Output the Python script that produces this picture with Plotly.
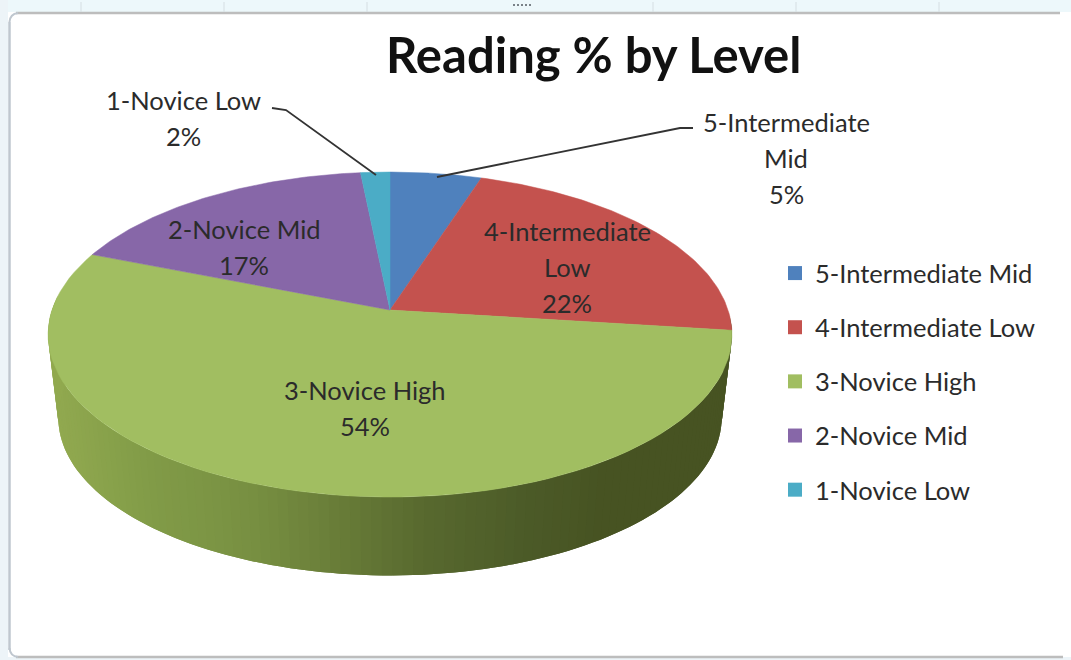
import numpy as np
import plotly.graph_objects as go

categories = ["5-Intermediate Mid", "4-Intermediate Low", "3-Novice High", "2-Novice Mid", "1-Novice Low"]
values = [5, 22, 54, 17.4, 1.6]
colors = ["#4F81BD", "#C4524E", "#A1BE61", "#8767A8", "#4BACC6"]
title_text = "Reading % by Level"
label_lines = {
    "5-Intermediate Mid": ["5-Intermediate", "Mid"],
    "4-Intermediate Low": ["4-Intermediate", "Low"],
    "3-Novice High": ["3-Novice High"],
    "2-Novice Mid": ["2-Novice Mid"],
    "1-Novice Low": ["1-Novice Low"],
}

W, H = 1071, 660
FONT = "Lato"
TXT = "#2b2b2b"
FS = 25.5
# page-pixel placement of each label's first line
label_pos = {
    "5-Intermediate Mid": (786, 122),
    "4-Intermediate Low": (567, 231),
    "3-Novice High": (365, 390),
    "2-Novice Mid": (244, 229),
    "1-Novice Low": (183, 100),
}
LINE_STEP = 36

CX, CY, RA, RB, K = 390, 310, 338, 158.8, 0.151
DEPTH_SCALE, DEPTH_Y = 0.97, 394


def rim(theta, scale=1.0, cy=CY):
    u, v = np.sin(theta), np.cos(theta)
    d = 1 + K * v
    return CX + scale * RA * u / d, cy - scale * RB * v / d


fig = go.Figure()

# extruded side of the pie, shaded by horizontal position
grad_x = [58, 150, 250, 330, 420, 520, 600, 735]
grad_r = [0x92, 0x82, 0x78, 0x6A, 0x58, 0x4C, 0x47, 0x47]
grad_g = [0xAA, 0x9C, 0x90, 0x7E, 0x69, 0x5B, 0x53, 0x53]
grad_b = [0x50, 0x48, 0x42, 0x39, 0x2F, 0x28, 0x22, 0x22]
side = np.radians(np.linspace(92, 275, 120))
for i in range(len(side) - 2):
    t = side[i:i + 3]
    x1, y1 = rim(t)
    x2, y2 = rim(t, DEPTH_SCALE, DEPTH_Y)
    col = "rgb(%d,%d,%d)" % tuple(np.interp(x2[1], grad_x, c) for c in (grad_r, grad_g, grad_b))
    fig.add_trace(go.Scatter(
        x=np.r_[x1, x2[::-1]], y=np.r_[y1, y2[::-1]], mode="none", fill="toself",
        fillcolor=col, hoverinfo="skip", showlegend=False))

# top face of the slices
edges = np.r_[0, np.cumsum(values)] / np.sum(values) * 2 * np.pi
for i, cat in enumerate(categories):
    t = np.linspace(edges[i], edges[i + 1], 80)
    x, y = rim(t)
    fig.add_trace(go.Scatter(
        x=np.r_[CX, x, CX], y=np.r_[CY, y, CY], mode="lines", fill="toself",
        fillcolor=colors[i], line=dict(color=colors[i], width=0.5),
        name=cat, text=f"{cat}: {round(values[i])}%", hoverinfo="text", showlegend=False))

# legend entries
for i, cat in enumerate(categories):
    fig.add_trace(go.Scatter(
        x=[None], y=[None], mode="markers", name=cat, legendgroup=cat,
        marker=dict(symbol="square", size=14, color=colors[i])))

# leader lines
fig.add_trace(go.Scatter(x=[272, 286, 376], y=[108, 110, 175], mode="lines",
                         line=dict(color="#333333", width=1.8), hoverinfo="skip", showlegend=False))
fig.add_trace(go.Scatter(x=[693, 680, 437], y=[128, 128, 177], mode="lines",
                         line=dict(color="#333333", width=1.8), hoverinfo="skip", showlegend=False))

# data labels
annotations = []
for i, cat in enumerate(categories):
    lx, ly = label_pos[cat]
    for j, line in enumerate(label_lines[cat] + [f"{round(values[i])}%"]):
        annotations.append(dict(x=lx, y=ly + j * LINE_STEP, xref="x", yref="y", text=line, showarrow=False,
                                xanchor="center", yanchor="middle", font=dict(family=FONT, size=FS, color=TXT)))
annotations.append(dict(x=593, y=54, xref="x", yref="y", text=f"<b>{title_text}</b>", showarrow=False,
                        xanchor="center", yanchor="middle", font=dict(family=FONT, size=49, color="#111111")))

# screenshot frame
shapes = [
    dict(type="rect", x0=0, x1=W, y0=0, y1=12, fillcolor="#EDF8FB", line_width=0, layer="below"),
    dict(type="rect", x0=0, x1=8, y0=0, y1=H, fillcolor="#EDF4F8", line_width=0, layer="below"),
    dict(type="rect", x0=0, x1=W, y0=657, y1=H, fillcolor="#EDF4F8", line_width=0, layer="below"),
    dict(type="line", x0=16, x1=W - 11, y0=13, y1=13, line=dict(color="#BDBDBD", width=2.5)),
    dict(type="line", x0=9.5, x1=9.5, y0=22, y1=650, line=dict(color="#BFC7CF", width=2.5)),
    dict(type="line", x0=16, x1=W - 8, y0=657, y1=657, line=dict(color="#BDBDBD", width=2.5)),
    dict(type="path", path="M 9.5 22 Q 10 14 18 13", line=dict(color="#BFC7CF", width=2)),
    dict(type="path", path="M 9.5 648 Q 10 656 18 657", line=dict(color="#BFC7CF", width=2)),
]
for tx in (81, 224, 367, 653, 796, 939):
    shapes.append(dict(type="line", x0=tx, x1=tx, y0=2, y1=12, line=dict(color="#D5DEE2", width=1)))
for tx in (513, 517, 521, 525, 529):
    shapes.append(dict(type="line", x0=tx, x1=tx + 2, y0=5, y1=5, line=dict(color="#7A8288", width=2)))

fig.update_layout(
    width=W, height=H, margin=dict(l=0, r=0, t=0, b=0), autosize=False,
    paper_bgcolor="white", plot_bgcolor="white",
    xaxis=dict(range=[0, W], visible=False, fixedrange=True),
    yaxis=dict(range=[H, 0], visible=False, fixedrange=True),
    annotations=annotations, shapes=shapes,
    showlegend=True,
    legend=dict(x=775 / W, y=1 - 250 / H, xanchor="left", yanchor="top", tracegroupgap=18,
                bgcolor="rgba(0,0,0,0)", font=dict(family=FONT, size=FS, color=TXT)),
)
fig.write_html("out.html", config={"displayModeBar": False},
               post_script="document.body.style.margin='0';document.body.style.overflow='hidden';")
